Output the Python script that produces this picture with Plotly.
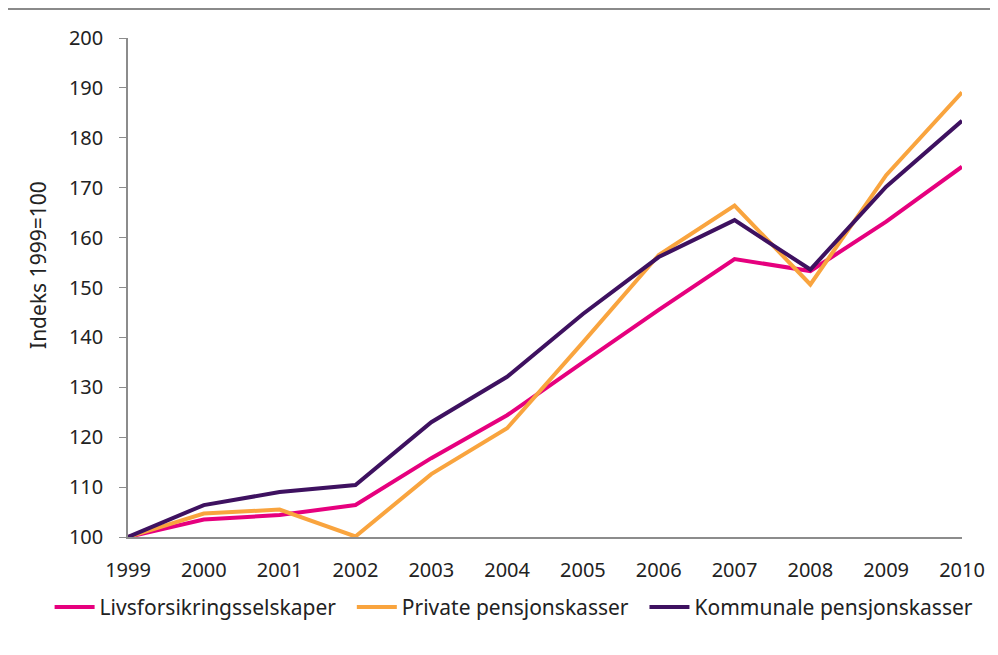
import plotly.graph_objects as go

years = [1999, 2000, 2001, 2002, 2003, 2004, 2005, 2006, 2007, 2008, 2009, 2010]
livsforsikring = [100, 103.5, 104.4, 106.4, 115.8, 124.4, 135.0, 145.5, 155.7, 153.3, 163.2, 174.2]
private_pk = [100, 104.7, 105.5, 100.1, 112.6, 121.8, 139.0, 156.5, 166.4, 150.6, 172.5, 189.1]
kommunale_pk = [100, 106.4, 109.0, 110.4, 123.0, 132.1, 144.7, 156.1, 163.5, 153.6, 170.2, 183.4]

series = [
    ("Livsforsikringsselskaper\u00a0\u00a0", livsforsikring, "#E6007E"),
    ("Private pensjonskasser\u00a0\u00a0", private_pk, "#F9A43E"),
    ("Kommunale pensjonskasser", kommunale_pk, "#3E1160"),
]

FONT = "Noto Sans"

fig = go.Figure()
for name, vals, col in series:
    fig.add_trace(go.Scatter(x=years, y=vals, name=name, mode="lines",
                             line=dict(color=col, width=4)))

fig.update_layout(
    width=990, height=647,
    margin=dict(l=120, r=36, t=30, b=118),
    paper_bgcolor="white", plot_bgcolor="white",
    font=dict(family=FONT, size=20, color="#222222"),
    showlegend=True,
    legend=dict(orientation="h", x=-0.094, xanchor="left", y=-0.10, yanchor="top",
                font=dict(family=FONT, size=21), itemwidth=40, tracegroupgap=0,
                bgcolor="rgba(0,0,0,0)"),
    xaxis=dict(range=[1999, 2010], tickmode="array", tickvals=years,
               ticktext=[str(y) for y in years], showgrid=False, zeroline=False,
               showline=True, linecolor="#8c8c8c", linewidth=1.5,
               ticks="outside", ticklen=14, tickcolor="rgba(0,0,0,0)",
               tickfont=dict(family=FONT, size=20)),
    yaxis=dict(range=[100, 200], dtick=10, showgrid=False, zeroline=False,
               showline=True, linecolor="#8c8c8c", linewidth=1.5,
               ticks="outside", ticklen=7, tickcolor="#8c8c8c",
               ticklabelstandoff=12, tickfont=dict(family=FONT, size=20)),
    annotations=[
        dict(text="Indeks 1999=100", textangle=-90, xref="paper", yref="paper",
             x=-0.108, y=0.545, xanchor="center", yanchor="middle", showarrow=False,
             font=dict(family=FONT, size=21, color="#222222")),
    ],
    shapes=[
        dict(type="line", xref="paper", yref="paper", x0=-0.149, x1=-0.149, y0=-0.3, y1=1.058,
             line=dict(color="#8a8a8a", width=2)),
        dict(type="line", xref="paper", yref="paper", x0=-0.149, x1=1.1, y0=1.058, y1=1.058,
             line=dict(color="#8a8a8a", width=2)),
    ],
)

fig.write_html("out.html")
